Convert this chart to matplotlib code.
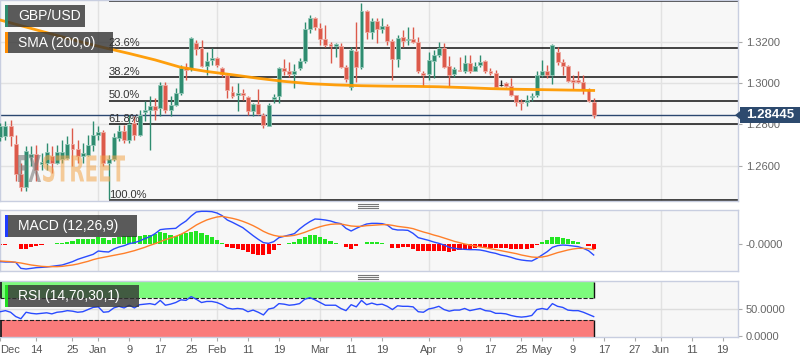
import numpy as np
import pandas as pd
import matplotlib
matplotlib.use("Agg")
import matplotlib.pyplot as plt
from matplotlib.patches import Rectangle, Polygon, PathPatch
from matplotlib.lines import Line2D
from matplotlib.textpath import TextPath
from matplotlib.font_manager import FontProperties
from matplotlib.transforms import Affine2D

plt.rcParams['font.family'] = ['Liberation Sans', 'DejaVu Sans']

W, H = 808, 363

# ---- data (daily GBP/USD, 5 Dec 2018 - 15 May 2019) ----
dates = pd.bdate_range('2018-12-05', '2019-05-15')

opens = [1.2739, 1.2745, 1.2790, 1.2707, 1.2562, 1.2495, 1.2640, 1.2655, 1.2610, 1.2614,
         1.2646, 1.2614, 1.2633, 1.2638, 1.2707, 1.2681, 1.2646, 1.2654, 1.2702,
         1.2750, 1.2761, 1.2614, 1.2633, 1.2734, 1.2770, 1.2726, 1.2806, 1.2750, 1.2858,
         1.2871, 1.2887, 1.2879, 1.2991, 1.2871, 1.2895, 1.2954, 1.3080, 1.3072, 1.3192,
         1.3168, 1.3084, 1.3112, 1.3120, 1.3075, 1.3039, 1.2959, 1.2940, 1.2951, 1.2932,
         1.2867, 1.2898, 1.2847, 1.2794, 1.2924, 1.2935, 1.3072, 1.3060, 1.3044, 1.3072,
         1.3107, 1.3261, 1.3313, 1.3268, 1.3211, 1.3187, 1.3179, 1.3181, 1.3080, 1.2980,
         1.3157, 1.3080, 1.3348, 1.3248, 1.3301, 1.3264, 1.3276, 1.3205, 1.3115, 1.3221,
         1.3208, 1.3211, 1.3197, 1.3051, 1.3044, 1.3107, 1.3136, 1.3168, 1.3083, 1.3044,
         1.3064, 1.3059, 1.3099, 1.3060, 1.3088, 1.3107, 1.3056, 1.3047, 1.2991, 1.2999,
         1.2986, 1.2940, 1.2906, 1.2906, 1.2932, 1.2940, 1.3039, 1.3056, 1.3039, 1.3152,
         1.3104, 1.3083, 1.3015, 1.3015, 1.3007, 1.2967, 1.2908]
highs = [1.2806, 1.2814, 1.2819, 1.2750, 1.2614, 1.2694, 1.2695, 1.2700, 1.2662, 1.2710,
         1.2694, 1.2702, 1.2726, 1.2742, 1.2782, 1.2726, 1.2710, 1.2750, 1.2814,
         1.2790, 1.2774, 1.2654, 1.2758, 1.2795, 1.2799, 1.2847, 1.2839, 1.2871, 1.2911,
         1.2935, 1.2927, 1.3007, 1.3007, 1.2935, 1.2975, 1.3088, 1.3096, 1.3221, 1.3208,
         1.3208, 1.3152, 1.3168, 1.3128, 1.3080, 1.3047, 1.2986, 1.2999, 1.2970, 1.2935,
         1.2903, 1.2970, 1.2855, 1.2903, 1.2946, 1.3080, 1.3115, 1.3104, 1.3092, 1.3120,
         1.3297, 1.3329, 1.3321, 1.3289, 1.3280, 1.3200, 1.3192, 1.3192, 1.3088, 1.3176,
         1.3297, 1.3388, 1.3353, 1.3313, 1.3313, 1.3313, 1.3285, 1.3211, 1.3232, 1.3256,
         1.3272, 1.3272, 1.3221, 1.3056, 1.3152, 1.3160, 1.3200, 1.3195, 1.3131, 1.3080,
         1.3128, 1.3136, 1.3136, 1.3104, 1.3136, 1.3112, 1.3072, 1.3064, 1.3015, 1.3007,
         1.3023, 1.2943, 1.2922, 1.2943, 1.2951, 1.3056, 1.3112, 1.3088, 1.3187, 1.3176,
         1.3115, 1.3088, 1.3039, 1.3056, 1.3039, 1.2975, 1.2927]
lows = [1.2718, 1.2726, 1.2694, 1.2525, 1.2477, 1.2477, 1.2600, 1.2525, 1.2581, 1.2581,
        1.2565, 1.2606, 1.2614, 1.2630, 1.2598, 1.2614, 1.2614, 1.2646, 1.2670,
        1.2726, 1.2598, 1.2437, 1.2622, 1.2718, 1.2710, 1.2710, 1.2726, 1.2742, 1.2814,
        1.2678, 1.2822, 1.2839, 1.2855, 1.2839, 1.2887, 1.2943, 1.3015, 1.3056, 1.3136,
        1.3080, 1.3039, 1.3088, 1.3080, 1.3031, 1.2927, 1.2927, 1.2863, 1.2919, 1.2847,
        1.2839, 1.2847, 1.2782, 1.2790, 1.2903, 1.2903, 1.3039, 1.3031, 1.2975, 1.3064,
        1.3096, 1.3240, 1.3256, 1.3184, 1.3176, 1.3099, 1.3128, 1.3072, 1.3007, 1.2967,
        1.3007, 1.3067, 1.3211, 1.3211, 1.3192, 1.3244, 1.3184, 1.3015, 1.3080, 1.3176,
        1.3184, 1.3192, 1.3047, 1.2986, 1.3015, 1.3023, 1.3128, 1.3072, 1.2986, 1.3028,
        1.3056, 1.3051, 1.3051, 1.3056, 1.3080, 1.3047, 1.3039, 1.2980, 1.2986, 1.2980,
        1.2935, 1.2890, 1.2871, 1.2887, 1.2911, 1.2932, 1.3031, 1.3023, 1.2996, 1.3088,
        1.3039, 1.3007, 1.2970, 1.2999, 1.2948, 1.2906, 1.2829]
closes = [1.2794, 1.2792, 1.2745, 1.2562, 1.2498, 1.2670, 1.2655, 1.2581, 1.2620, 1.2665,
          1.2614, 1.2665, 1.2665, 1.2707, 1.2683, 1.2646, 1.2659, 1.2702, 1.2750,
          1.2761, 1.2614, 1.2633, 1.2737, 1.2770, 1.2726, 1.2803, 1.2750, 1.2847, 1.2871,
          1.2887, 1.2871, 1.2991, 1.2871, 1.2895, 1.2954, 1.3072, 1.3064, 1.3216, 1.3163,
          1.3084, 1.3107, 1.3120, 1.3088, 1.3044, 1.2964, 1.2938, 1.2951, 1.2940, 1.2867,
          1.2898, 1.2851, 1.2798, 1.2895, 1.2932, 1.3072, 1.3060, 1.3044, 1.3056, 1.3107,
          1.3261, 1.3313, 1.3272, 1.3211, 1.3184, 1.3179, 1.3187, 1.3080, 1.3019, 1.3160,
          1.3080, 1.3348, 1.3248, 1.3301, 1.3264, 1.3276, 1.3205, 1.3115, 1.3216, 1.3205,
          1.3213, 1.3197, 1.3056, 1.3039, 1.3112, 1.3136, 1.3168, 1.3080, 1.3039, 1.3068,
          1.3059, 1.3096, 1.3056, 1.3084, 1.3104, 1.3056, 1.3051, 1.2983, 1.2991, 1.2986,
          1.2943, 1.2908, 1.2901, 1.2916, 1.2938, 1.3039, 1.3056, 1.3039, 1.3184, 1.3104,
          1.3083, 1.3012, 1.3007, 1.3007, 1.2967, 1.2911, 1.28445]

# 200-day SMA
sma_dates = ['2018-12-05', '2018-12-12', '2018-12-19', '2018-12-26', '2019-01-02', '2019-01-09',
             '2019-01-16', '2019-01-23', '2019-01-30', '2019-02-06', '2019-02-13', '2019-02-20',
             '2019-02-27', '2019-03-06', '2019-03-13', '2019-03-20', '2019-03-27', '2019-04-03',
             '2019-04-10', '2019-04-17', '2019-04-24', '2019-05-01', '2019-05-08', '2019-05-15']
sma_vals = [1.3305, 1.3271, 1.3237, 1.3203, 1.3172, 1.3143, 1.3112, 1.3076, 1.3056, 1.3040,
            1.3023, 1.3008, 1.2997, 1.2991, 1.2987, 1.2985, 1.2984, 1.2982, 1.2978, 1.2973,
            1.2970, 1.2968, 1.2966, 1.2964]

# MACD (12,26,9) in pips
macd = [-35.3, -36.0, -36.0, -36.7, -48.7, -50.0, -48.7, -47.3, -46.7, -46.0,
        -44.7, -43.3, -42.0, -38.7, -35.3, -30.7, -27.3, -24.0, -20.7,
        -14.0, -15.3, -16.0, -10.0, -6.0, -3.3, 0.7, 2.7, 6.0, 10.7,
        14.7, 20.7, 28.7, 30.0, 30.7, 31.3, 39.3, 46.0, 56.0, 64.0,
        65.3, 65.3, 64.7, 62.0, 56.7, 48.0, 43.3, 38.0, 32.7, 24.7,
        16.7, 9.3, 2.7, 1.3, 4.7, 12.7, 15.3, 18.0, 20.7, 30.0,
        38.0, 44.7, 50.0, 49.3, 48.0, 46.0, 42.7, 40.7, 31.3, 26.0,
        31.3, 36.0, 40.0, 41.3, 41.3, 40.7, 38.0, 30.0, 28.0, 28.0,
        27.3, 21.3, 12.7, 10.0, 7.3, 4.0, 1.3, -2.0, -6.7, -8.7,
        -10.0, -10.7, -11.3, -11.3, -12.0, -14.0, -16.7, -18.7, -22.0, -24.0,
        -26.7, -30.0, -32.0, -33.3, -34.0, -28.7, -22.0, -15.3, -6.7, -3.3,
        -2.0, -2.7, -4.0, -5.3, -8.7, -13.3, -22.0]
signal = [-34.0, -34.7, -35.3, -36.7, -38.0, -40.0, -42.0, -43.3, -44.7, -45.3,
          -45.3, -45.3, -44.7, -43.3, -42.0, -40.0, -37.3, -34.7, -31.3,
          -28.7, -26.7, -24.7, -22.7, -20.7, -18.7, -16.0, -13.3, -10.0, -6.7,
          -2.7, 0.7, 4.7, 8.7, 12.0, 15.3, 19.3, 24.7, 31.3, 38.0,
          43.3, 48.0, 51.3, 54.0, 55.3, 53.3, 51.3, 48.7, 45.3, 41.3,
          36.7, 31.3, 25.3, 20.7, 17.3, 15.3, 15.3, 16.0, 17.3, 20.0,
          23.3, 27.3, 31.3, 34.7, 37.3, 39.3, 40.0, 40.0, 38.0, 36.0,
          35.3, 35.3, 36.7, 37.3, 38.0, 38.7, 38.7, 37.3, 35.3, 34.0,
          32.7, 30.7, 27.3, 24.0, 21.3, 18.0, 15.3, 12.0, 8.7, 5.3,
          2.7, 0.0, -2.0, -4.0, -6.0, -7.3, -9.3, -11.3, -13.3, -15.3,
          -17.3, -19.3, -22.0, -24.0, -26.0, -26.7, -26.0, -24.0, -20.7, -17.3,
          -14.7, -12.0, -10.0, -8.7, -8.7, -9.3, -11.3]

rsi = [45, 47, 44, 36, 32, 44, 42, 41, 42, 43, 41, 44, 45, 47, 46, 44, 45, 49, 53,
       54, 44, 45, 52, 55, 52, 57, 52, 58, 59,
       60, 58, 66, 57, 59, 62, 67, 66, 73, 68,
       62, 64, 64, 62, 58, 52, 50, 51, 50, 45,
       48, 44, 39, 50, 52, 60, 59, 57, 58, 60,
       68, 71, 67, 62, 57, 57, 57, 51, 47, 58,
       54, 66, 58, 61, 58, 59, 55, 49, 56, 55,
       55, 54, 45, 44, 50, 52, 55, 49, 46, 48,
       48, 51, 47, 49, 51, 47, 46, 42, 42, 41,
       38, 36, 35, 36, 38, 49, 51, 49, 60, 55,
       53, 48, 47, 47, 44, 40, 36]

fib_high, fib_low = 1.3396, 1.2435
fib_levels = [0.0, 23.6, 38.2, 50.0, 61.8, 100.0]
fib_start = '2019-01-03'

month_dates = ['2019-01-01', '2019-02-01', '2019-03-01', '2019-04-01', '2019-05-01', '2019-06-03']
tick_dates = ['2018-12-05', '2018-12-14', '2018-12-25', '2019-01-01', '2019-01-09', '2019-01-17',
              '2019-01-25', '2019-02-01', '2019-02-11', '2019-02-19', '2019-03-01', '2019-03-11',
              '2019-03-19', '2019-04-01', '2019-04-09', '2019-04-17', '2019-04-25', '2019-05-01',
              '2019-05-09', '2019-05-17', '2019-05-27', '2019-06-03', '2019-06-11', '2019-06-19']
tick_labels = ['Dec', '14', '25', 'Jan', '9', '17', '25', 'Feb', '11', '19', 'Mar', '11', '19',
               'Apr', '9', '17', '25', 'May', '9', '17', '27', 'Jun', '11', '19']


def bday(d):
    # trading-day position, counted from 1 Jan 2019
    d = np.asarray(d, dtype='datetime64[D]')
    return np.busday_count(np.datetime64('2019-01-01'), d)


x = bday(dates.values.astype('datetime64[D]'))
opens, highs, lows, closes = map(np.array, (opens, highs, lows, closes))
macd, signal, rsi = map(np.array, (macd, signal, rsi))
hist = macd - signal

XL = (-19.05, 123.97)
GREEN, RED = '#2f8c70', '#dc5a4b'
BG = '#f7f7f7'
SPINE = '#c8cee0'
GRID = '#e2e2e2'

fig = plt.figure(figsize=(W / 100, H / 100), dpi=100)
fig.patch.set_facecolor('white')


def px_axes(x0, y0, x1, y1):
    return fig.add_axes([x0 / W, 1 - y1 / H, (x1 - x0) / W, (y1 - y0) / H])


ax = px_axes(0, 0, 738, 201)
ax_m = px_axes(0, 210, 738, 271)
ax_r = px_axes(0, 281, 738, 337)

for a in (ax, ax_m, ax_r):
    a.set_facecolor(BG)
    a.set_xlim(*XL)
    for s in a.spines.values():
        s.set_color(SPINE)
        s.set_linewidth(1)
    for md in month_dates:
        a.axvline(bday(md), color=GRID, lw=1, zorder=0)
    a.yaxis.tick_right()
    a.tick_params(axis='y', length=3, width=0.8, color='#aaaaaa', labelcolor='#666666',
                  labelsize=8, pad=2.5)
for a in (ax, ax_m):
    a.tick_params(axis='x', bottom=False, labelbottom=False)

# ---- main price panel ----
ax.set_ylim(1.2429, 1.3402)
ax.set_yticks([1.26, 1.28, 1.30, 1.32])
ax.set_yticklabels([f'{v:.4f}' for v in [1.26, 1.28, 1.30, 1.32]])
for v in [1.26, 1.28, 1.30, 1.32]:
    ax.axhline(v, color=GRID, lw=1, zorder=0)

up = closes > opens
dn = closes < opens
col = np.where(up, GREEN, np.where(dn, RED, '#222222'))
edge = np.where(up, '#93c7b7', np.where(dn, '#eeaaa2', '#222222'))
ax.vlines(x, lows, highs, colors=col, lw=1, zorder=3)
ax.bar(x, np.maximum(np.abs(closes - opens), 0.00008), bottom=np.minimum(opens, closes),
       width=0.76, color=col, edgecolor=edge, linewidth=0.6, zorder=4)

fs = bday(fib_start)
for lv in fib_levels:
    p = fib_high - (fib_high - fib_low) * lv / 100
    ax.hlines(p, fs, XL[1], colors='#111111', lw=1.1, zorder=2)
    if lv > 0:  # the 0% label sits above the top edge, hidden in the reference
        ax.annotate(f'{lv:.1f}%', (fs, p), xytext=(0, 1.5), textcoords='offset points',
                    fontsize=8, color='#333333', ha='left', va='baseline', zorder=6)

ax.axhline(closes[-1], color='#2b4770', lw=1, zorder=2.5)
ax.plot(bday(sma_dates), sma_vals, color='#ff9a00', lw=2, zorder=5, alpha=0.95)

# ---- MACD panel ----
ax_m.set_ylim(-54, 68)
ax_m.bar(x, hist, width=0.8, color=np.where(hist >= 0, '#22e622', '#ff0000'), zorder=2)
ax_m.plot(x, macd, color='#2a4bff', lw=1, zorder=3)
ax_m.plot(x, signal, color='#ff7f2a', lw=1, zorder=3)
ax_m.set_yticks([0])
ax_m.set_yticklabels(['-0.0000'])

# ---- RSI panel ----
ax_r.set_ylim(-1.85, 101.9)
ax_r.axhline(50, color='#dddddd', lw=1, zorder=1)
xe = x[-1]
ax_r.add_patch(Rectangle((XL[0], 70), xe - XL[0], 30, facecolor='#7dfb7d', edgecolor='none', zorder=2))
ax_r.add_patch(Rectangle((XL[0], -1.85), xe - XL[0], 31.85, facecolor='#fa7b7b', edgecolor='none', zorder=2))
ax_r.hlines([70, 30], XL[0], xe, colors='#222222', lw=0.8, linestyles='--', zorder=3)
ax_r.vlines([xe, xe], [70, -1.85], [100, 30], colors='#111111', lw=1, zorder=3)
ax_r.vlines([XL[0] + 0.15] * 2, [70, -1.85], [100, 30], colors='#111111', lw=1.2, zorder=3)
ax_r.plot(x, rsi, color='#2a4bff', lw=1, zorder=4)
ax_r.set_yticks([0, 50])
ax_r.set_yticklabels(['0.0000', '50.0000'])
ax_r.set_xticks(bday(tick_dates))
ax_r.set_xticklabels(tick_labels)
ax_r.tick_params(axis='x', length=3, width=0.8, color='#aaaaaa', labelcolor='#555555',
                 labelsize=8, pad=3)
ax_r.get_xticklabels()[0].set_ha('left')


# ---- overlays in pixel coordinates ----
def px_rect(x0, y0, x1, y1, color, alpha=1.0, z=8):
    fig.add_artist(Rectangle((x0 / W, 1 - y1 / H), (x1 - x0) / W, (y1 - y0) / H,
                             transform=fig.transFigure, facecolor=color, edgecolor='none',
                             alpha=alpha, zorder=z))


def label_box(x1, y0, y1, text, bar):
    px_rect(5, y0, x1, y1, '#333333', 0.8)
    px_rect(5, y0, 8, y1, bar, 1.0, 9)
    fig.text(18 / W, 1 - (y0 + y1) / 2 / H, text, color='white', fontsize=10,
             ha='left', va='center', zorder=10)


label_box(85, 5, 27, 'GBP/USD', GREEN)
label_box(113, 32, 53, 'SMA (200,0)', '#ff8c00')
label_box(137, 215, 237, 'MACD (12,26,9)', '#1f3cff')
label_box(139, 285, 307, 'RSI (14,70,30,1)', '#22dd22')


def narrow_word(s, x0, x1, ytop, ybot, color, alpha):
    tp = TextPath((0, 0), s, size=100, prop=FontProperties(family='DejaVu Sans', weight='bold'))
    bb = tp.get_extents()
    tr = (Affine2D().translate(-bb.x0, -bb.y0)
          .scale((x1 - x0) / bb.width, (ybot - ytop) / bb.height)
          .translate(x0, H - ybot))
    fig.add_artist(PathPatch(tp, transform=tr, facecolor=color, edgecolor='none',
                             alpha=alpha, zorder=6))


narrow_word('FX', 18, 41, 155, 182, '#7a7a7a', 0.6)
narrow_word('STREET', 43, 125, 155, 182, '#f2a54a', 0.55)

# price tag
yd = ax.transData.transform((0, closes[-1]))[1]
fig.add_artist(Rectangle((740 / W, (yd - 8) / H), 60 / W, 16 / H, transform=fig.transFigure,
                         facecolor='#2d4a6e', edgecolor='none', zorder=9))
fig.add_artist(Polygon([(735 / W, yd / H), (740 / W, (yd + 4) / H), (740 / W, (yd - 4) / H)],
                       closed=True, transform=fig.transFigure, facecolor='#2d4a6e',
                       edgecolor='none', zorder=9))
fig.text(770 / W, yd / H, f'{closes[-1]:.5f}', color='white', fontsize=9.5, weight='bold',
         ha='center', va='center', zorder=10)

# panel separators
for yy in (204, 206, 208, 275, 277, 279):
    fig.add_artist(Line2D([358 / W, 378 / W], [1 - yy / H] * 2, transform=fig.transFigure,
                          color='#777777', lw=0.8))

fig.savefig('out.png', dpi=100, facecolor='white')
